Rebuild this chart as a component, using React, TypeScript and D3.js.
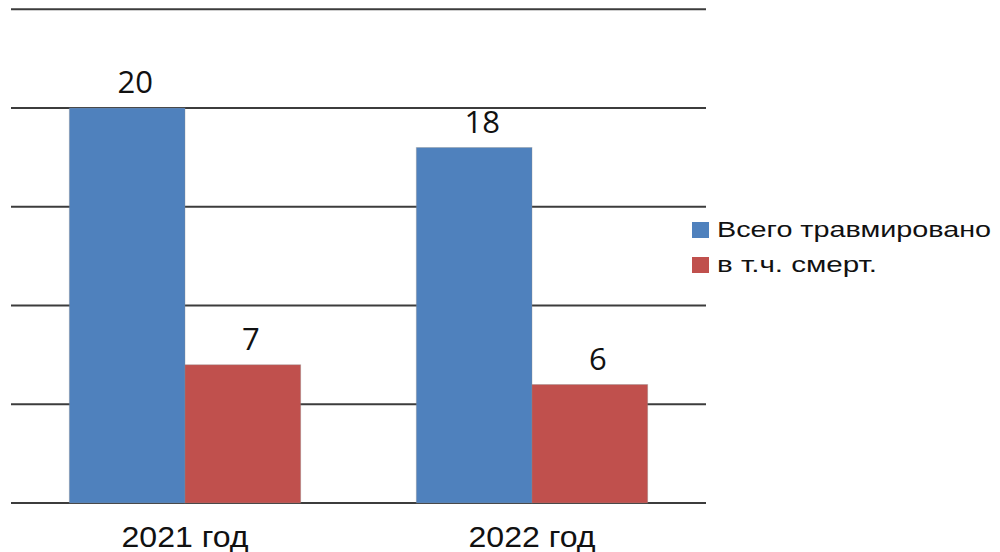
import React from "react";
import * as d3 from "d3";

const categories = ["2021 год", "2022 год"];
const seriesNames = ["Всего травмировано", "в т.ч. смерт."];
const totalInjured = [20, 18];
const fatal = [7, 6];
const yTicks = [0, 5, 10, 15, 20, 25];
const colors = ["#4F81BD", "#C0504D"];

export default function App() {
  const W = 1000;
  const H = 552;
  const x = d3.scaleBand<string>().domain(categories).range([11.5, 705.5]).paddingInner(0).paddingOuter(0);
  const xs = d3.scaleBand<string>().domain(seriesNames).range([0, x.bandwidth()]).paddingInner(0).paddingOuter(0.5);
  const y = d3.scaleLinear().domain([0, 25]).range([503, 9.25]);
  const series = [totalInjured, fatal];
  const legendTextLen = [274, 160];

  return (
    <svg width={W} height={H} style={{ position: "absolute", left: 0, top: 0, background: "#fff" }}>
      <rect x={0} y={0} width={W} height={H} fill="#fff" />
      {yTicks.map((t) => (
        <line key={t} x1={11} x2={706} y1={y(t)} y2={y(t)} stroke="#3c3c3c" strokeWidth={2} />
      ))}
      {categories.map((c, ci) =>
        seriesNames.map((s, si) => {
          const v = series[si][ci];
          const bx = (x(c) ?? 0) + (xs(s) ?? 0);
          const bw = xs.bandwidth();
          return (
            <g key={c + s}>
              <rect x={bx} y={y(v)} width={bw} height={y(0) - y(v)} fill={colors[si]} stroke="#8a8a8a" strokeOpacity={0.35} strokeWidth={1} />
              <text
                x={bx + bw / 2 + 8}
                y={y(v) - 15}
                textAnchor="middle"
                fontFamily="'Open Sans', 'Liberation Sans', sans-serif"
                fontSize={31}
                fill="#111"
              >
                {v}
              </text>
            </g>
          );
        })
      )}
      {categories.map((c) => (
        <text
          key={c}
          x={(x(c) ?? 0) + x.bandwidth() / 2}
          y={547}
          textAnchor="middle"
          fontFamily="'Liberation Sans', Arial, sans-serif"
          fontSize={30}
          fill="#111"
          textLength={127}
          lengthAdjust="spacingAndGlyphs"
        >
          {c}
        </text>
      ))}
      {seriesNames.map((s, si) => (
        <g key={s} transform={`translate(692, ${222 + si * 35})`}>
          <rect x={0} y={0} width={17} height={16} fill={colors[si]} />
          <text
            x={25}
            y={15}
            fontFamily="'Liberation Sans', Arial, sans-serif"
            fontSize={22}
            fill="#111"
            textLength={legendTextLen[si]}
            lengthAdjust="spacingAndGlyphs"
          >
            {s}
          </text>
        </g>
      ))}
    </svg>
  );
}
